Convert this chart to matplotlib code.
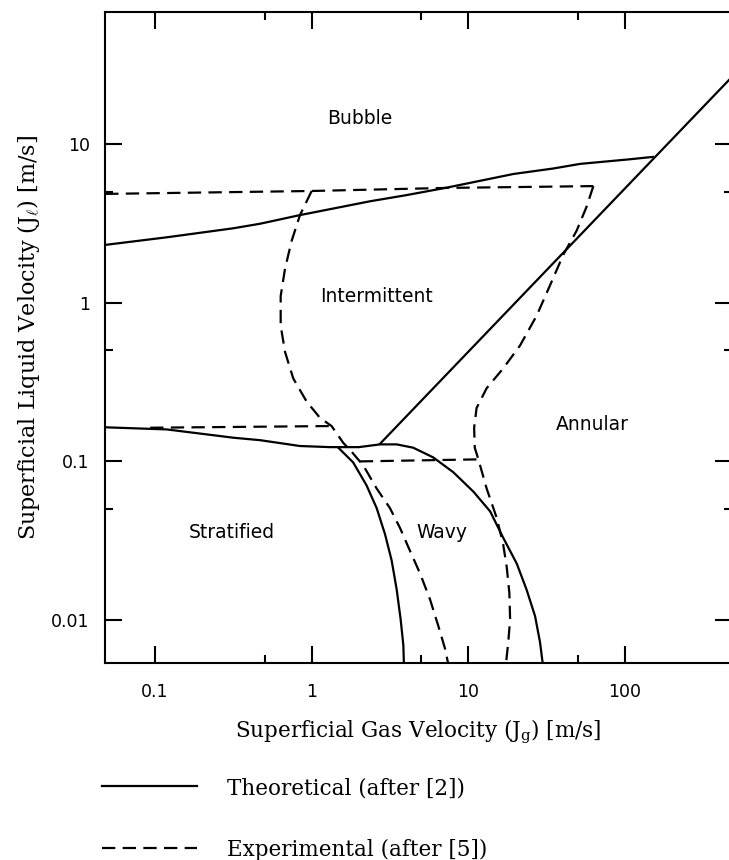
import numpy as np
import matplotlib
matplotlib.use("Agg")
import matplotlib.pyplot as plt
from matplotlib.lines import Line2D
from matplotlib.ticker import FixedLocator, NullFormatter

plt.rcParams['mathtext.fontset'] = 'custom'
plt.rcParams['mathtext.rm'] = 'DejaVu Serif'
plt.rcParams['mathtext.it'] = 'DejaVu Serif:italic'

# theoretical boundaries (after [2]): gas velocity Jg, liquid velocity Jl  [m/s]
bubble_jg = [0.048, 0.119, 0.316, 0.468, 0.842, 2.36, 4.0, 7.28, 19.4, 35, 51.7, 108, 151]
bubble_jl = [2.31, 2.58, 2.94, 3.14, 3.56, 4.35, 4.75, 5.3, 6.46, 7.0, 7.48, 8.0, 8.28]

annular_jg = [2.73, 500]
annular_jl = [0.129, 27.4]

strat_jg = [0.048, 0.119, 0.316, 0.47, 0.842, 1.31, 2.0, 2.73, 3.49, 4.45, 5.97, 8.02,
            10.8, 13.8, 16.7, 20.4, 23.6, 26.7, 28.7, 29.9]
strat_jl = [0.164, 0.159, 0.141, 0.136, 0.125, 0.123, 0.123, 0.128, 0.128, 0.122, 0.106, 0.0855,
            0.0644, 0.0484, 0.0331, 0.0227, 0.0155, 0.0106, 0.00728, 0.0053]

wavy_jg = [1.48, 1.84, 2.24, 2.60, 2.94, 3.24, 3.49, 3.70, 3.85, 3.88]
wavy_jl = [0.122, 0.0986, 0.0707, 0.0508, 0.0348, 0.0238, 0.0156, 0.0101, 0.00694, 0.0053]

# experimental boundaries (after [5])
exp_top_jg = [0.048, 1.0, 7.28, 62.9]
exp_top_jl = [4.84, 5.05, 5.28, 5.42]

exp_ann_jg = [62.9, 57, 49.2, 40.4, 33.2, 27.3, 21.4, 16.7, 13.1, 11.3, 10.9, 11.0, 11.6,
              13.1, 15.2, 16.7, 17.6, 18.3, 18.5, 18.0, 17.4]
exp_ann_jl = [5.42, 4.03, 2.84, 2.0, 1.28, 0.826, 0.537, 0.385, 0.289, 0.217, 0.163, 0.122, 0.103,
              0.0675, 0.044, 0.0301, 0.0216, 0.0148, 0.0101, 0.00727, 0.0053]

exp_int_jg = [1.0, 0.842, 0.745, 0.676, 0.634, 0.634, 0.676, 0.763, 0.929, 1.13, 1.34, 1.59,
              1.80, 2.14, 2.60, 3.16, 3.66, 4.24, 4.92, 5.70, 6.43, 7.10, 7.45]
exp_int_jl = [5.05, 3.56, 2.45, 1.64, 1.10, 0.716, 0.489, 0.333, 0.238, 0.188, 0.167, 0.131,
              0.115, 0.094, 0.0675, 0.0508, 0.0382, 0.0274, 0.0197, 0.0135, 0.00923, 0.00663, 0.0053]

exp_strat_jg = [0.093, 1.34]
exp_strat_jl = [0.163, 0.167]

exp_wavy_jg = [2.03, 11.6]
exp_wavy_jl = [0.1, 0.103]

regions = ['Bubble', 'Intermittent', 'Annular', 'Stratified', 'Wavy']
region_jg = [2.03, 2.6, 62, 0.31, 6.82]
region_jl = [14.4, 1.1, 0.17, 0.0356, 0.0356]

xticks = [0.1, 1, 10, 100]
xtick_labels = ['0.1', '1', '10', '100']
yticks = [0.01, 0.1, 1, 10]
ytick_labels = ['0.01', '0.1', '1', '10']
minor_x = [0.5, 5, 50]
minor_y = [0.05, 0.5, 5]

W, H = 729, 860
fig = plt.figure(figsize=(W / 100, H / 100), dpi=100)
ax = fig.add_axes([105 / W, (H - 663.3) / H, 627 / W, 651.6 / H])

lw = 1.6
dash = (0, (6, 3.3))
ax.plot(bubble_jg, bubble_jl, 'k-', lw=lw)
ax.plot(annular_jg, annular_jl, 'k-', lw=lw)
ax.plot(strat_jg, strat_jl, 'k-', lw=lw)
ax.plot(wavy_jg, wavy_jl, 'k-', lw=lw)

ax.plot(exp_top_jg, exp_top_jl, 'k', ls=dash, lw=lw)
ax.plot(exp_ann_jg, exp_ann_jl, 'k', ls=dash, lw=lw)
ax.plot(exp_int_jg, exp_int_jl, 'k', ls=dash, lw=lw)
ax.plot(exp_strat_jg, exp_strat_jl, 'k', ls=dash, lw=lw)
ax.plot(exp_wavy_jg, exp_wavy_jl, 'k', ls=dash, lw=lw)

sans = dict(family='DejaVu Sans', fontsize=12.5)
for name, gx, gy in zip(regions, region_jg, region_jl):
    ax.text(gx, gy, name, ha='center', va='center', family='DejaVu Sans', fontsize=13.5)

ax.set_xscale('log')
ax.set_yscale('log')
ax.set_xlim(0.0479, 483)
ax.set_ylim(0.00535, 68)

ax.xaxis.set_major_locator(FixedLocator(xticks))
ax.yaxis.set_major_locator(FixedLocator(yticks))
ax.xaxis.set_minor_locator(FixedLocator(minor_x))
ax.yaxis.set_minor_locator(FixedLocator(minor_y))
ax.xaxis.set_minor_formatter(NullFormatter())
ax.yaxis.set_minor_formatter(NullFormatter())
ax.set_xticklabels(xtick_labels, **sans)
ax.set_yticklabels(ytick_labels, **sans)
ax.tick_params(which='both', direction='in', top=True, right=True, width=1.5, color='k')
ax.tick_params(which='major', length=12, pad=11)
ax.tick_params(which='minor', length=5.5)
ax.tick_params(axis='x', which='major', pad=14)
ax.spines['right'].set_visible(False)
for s in ['left', 'top', 'bottom']:
    ax.spines[s].set_linewidth(1.5)

serif = dict(family='DejaVu Serif', fontsize=15.5)
ax.set_xlabel(r'Superficial Gas Velocity (${\rm J}_{\rm g}$) [m/s]', labelpad=12, **serif)
ax.set_ylabel(r'Superficial Liquid Velocity (${\rm J}_{\ell}$) [m/s]', labelpad=7,
              family='DejaVu Serif', fontsize=16)

handles = [Line2D([], [], color='k', lw=lw), Line2D([], [], color='k', lw=lw, ls=dash)]
fig.legend(handles, ['Theoretical (after [2])', 'Experimental (after [5])'],
           loc='upper left', bbox_to_anchor=(102 / W, 1 - 777 / H), frameon=False,
           handlelength=4.4, handletextpad=1.4, labelspacing=1.85, borderpad=0,
           borderaxespad=0, prop={'family': 'DejaVu Serif', 'size': 15.5})

fig.savefig('out.png', dpi=100)
